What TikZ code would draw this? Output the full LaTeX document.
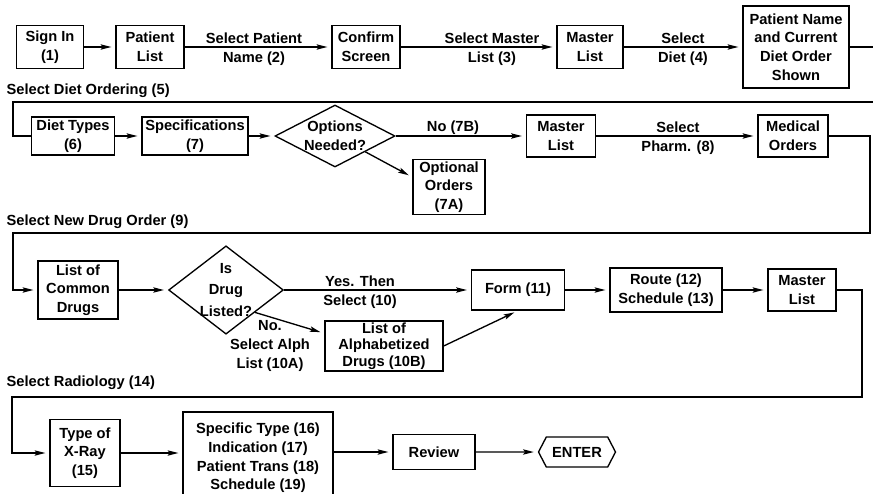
\documentclass[tikz,border=0pt]{standalone}
\usepackage{fontspec}
\setmainfont{Liberation Sans}
\usetikzlibrary{arrows.meta,shapes.geometric,shapes.symbols}

\tikzset{every picture/.style={line width=1pt}}
\tikzset{
  flowbox/.style={draw, align=center, inner sep=1.5pt, font=\bfseries\fontsize{11}{14}\selectfont},
  flowdiamond/.style={draw, diamond, align=center, inner sep=-1pt, font=\bfseries\fontsize{11}{14}\selectfont},
  flowlabel/.style={align=center, inner sep=0pt, font=\bfseries\fontsize{11}{14}\selectfont},
  flowarrow/.style={-{Stealth[length=8pt,width=4pt,inset=1.5pt]}, shorten >=3pt}
}

\begin{document}
\begin{tikzpicture}[x=0.75pt,y=0.75pt,yscale=-1,xscale=1]
\path [use as bounding box] (0,0) rectangle (873,493);

%Shape: Rectangle (first row)
\node (si) at (50,47) [flowbox, minimum width=50.25pt, minimum height=32.25pt] {Sign In\\(1)};
\node (pl) at (150,47) [flowbox, minimum width=51pt, minimum height=32.25pt] {Patient\\List};
\node (cs) at (366,47) [flowbox, minimum width=51pt, minimum height=32.25pt] {Confirm\\Screen};
\node (mla) at (590,47) [flowbox, minimum width=49.5pt, minimum height=32.25pt] {Master\\List};
\node (pn) at (796,47) [flowbox, minimum width=79.5pt, minimum height=61.5pt] {Patient Name\\and Current\\Diet Order\\Shown};

%Shape: Rectangle (second row)
\node (dt) at (73,136) [flowbox, minimum width=62.25pt, minimum height=28.5pt] {Diet Types\\(6)};
\node (sp) at (195,136) [flowbox, minimum width=79.5pt, minimum height=28.5pt] {Specifications\\(7)};
\node (on) at (335,136) [flowdiamond, aspect=1.9, minimum width=90pt, minimum height=46.5pt] {Options\\Needed?};
\node (oo) at (449,187) [flowbox, minimum width=54pt, minimum height=37.5pt] {Optional\\Orders\\(7A)};
\node (mlb) at (561,136) [flowbox, minimum width=51.75pt, minimum height=31.5pt] {Master\\List};
\node (mo) at (793,136) [flowbox, minimum width=52.5pt, minimum height=31.5pt] {Medical\\Orders};

%Shape: Rectangle (third row)
\node (cd) at (78,290) [flowbox, minimum width=60pt, minimum height=43.5pt] {List of\\Common\\Drugs};
\node (dl) at (226,290) [flowdiamond, aspect=1.3, minimum width=81pt, minimum height=63pt, font=\bfseries\fontsize{11}{16}\selectfont] {Is\\Drug\\Listed?};
\node (ab) at (384,346) [flowbox, minimum width=88.5pt, minimum height=31.5pt, inner sep=1pt, font=\bfseries\fontsize{11}{12.5}\selectfont] {List of\\Alphabetized\\Drugs (10B)};
\node (fm) at (518,290) [flowbox, minimum width=69.75pt, minimum height=30pt] {Form (11)};
\node (rs) at (666,290) [flowbox, minimum width=84pt, minimum height=33pt] {Route (12)\\Schedule (13)};
\node (mlc) at (802,290) [flowbox, minimum width=51pt, minimum height=31.5pt] {Master\\List};

%Shape: Rectangle (fourth row)
\node (xr) at (85,453) [flowbox, minimum width=52.5pt, minimum height=50.25pt] {Type of\\X-Ray\\(15)};
\node (st) at (258,458) [flowbox, minimum width=112.5pt, minimum height=69pt] {Specific Type (16)\\Indication (17)\\Patient Trans (18)\\Schedule (19)};
\node (rv) at (434,452) [flowbox, minimum width=61.5pt, minimum height=26.25pt] {Review};
\node (en) at (577,452) [flowbox, signal, signal to=west and east, signal pointer angle=125, minimum width=57.75pt, minimum height=22.5pt] {ENTER};

%Straight Lines
\draw [flowarrow] (si) -- (pl);
\draw [flowarrow] (pl) -- (cs);
\draw [flowarrow] (cs) -- (mla);
\draw [flowarrow] (mla) -- (pn);
\draw (pn.east) -| (875,102) -- (13,102) |- (dt.west);

\draw [flowarrow] (dt) -- (sp);
\draw [flowarrow] (sp) -- (on);
\draw [flowarrow] (on) -- (mlb);
\draw [flowarrow] (on.south east) -- (oo.165);
\draw [flowarrow] (mlb) -- (mo);
\draw [flowarrow] (mo.east) -| (870,233) -- (13,233) |- (cd.west);

\draw [flowarrow] (cd) -- (dl);
\draw [flowarrow] (dl) -- (fm);
\draw [flowarrow] (dl.south east) -- (ab.168);
\draw [flowarrow] (ab.east) -- (fm.south);
\draw [flowarrow] (fm) -- (rs);
\draw [flowarrow] (rs) -- (mlc);
\draw [flowarrow] (mlc.east) -| (862,397) -- (12,397) |- (xr.west);

\draw [flowarrow] (xr.east) -- (xr.east -| st.west);
\draw [flowarrow] (st.east |- rv.west) -- (rv.west);
\draw [flowarrow] (rv) -- (en);

% Text Node
\draw (254,49) node (lpat) [flowlabel] {Select Patient\\Name (2)};
% Text Node
\draw (492,49) node (lmas) [flowlabel] {Select Master\\List (3)};
% Text Node
\draw (683,49) node (ldiet) [flowlabel] {Select\\Diet (4)};
% Text Node
\draw (453,128) node (lno) [flowlabel] {No (7B)};
% Text Node
\draw (678,138) node (lpha) [flowlabel] {Select\\Pharm. (8)};
% Text Node
\draw (360,292) node (lyes) [flowlabel] {Yes. Then\\Select (10)};
% Text Node
\draw (270,346) node (lalph) [flowlabel] {No.\\Select Alph\\List (10A)};
% Text Node
\draw (6,91) node (hdiet) [flowlabel, anchor=west] {Select Diet Ordering (5)};
% Text Node
\draw (6,222) node (hdrug) [flowlabel, anchor=west] {Select New Drug Order (9)};
% Text Node
\draw (6,383) node (hrad) [flowlabel, anchor=west] {Select Radiology (14)};

\end{tikzpicture}
\end{document}
